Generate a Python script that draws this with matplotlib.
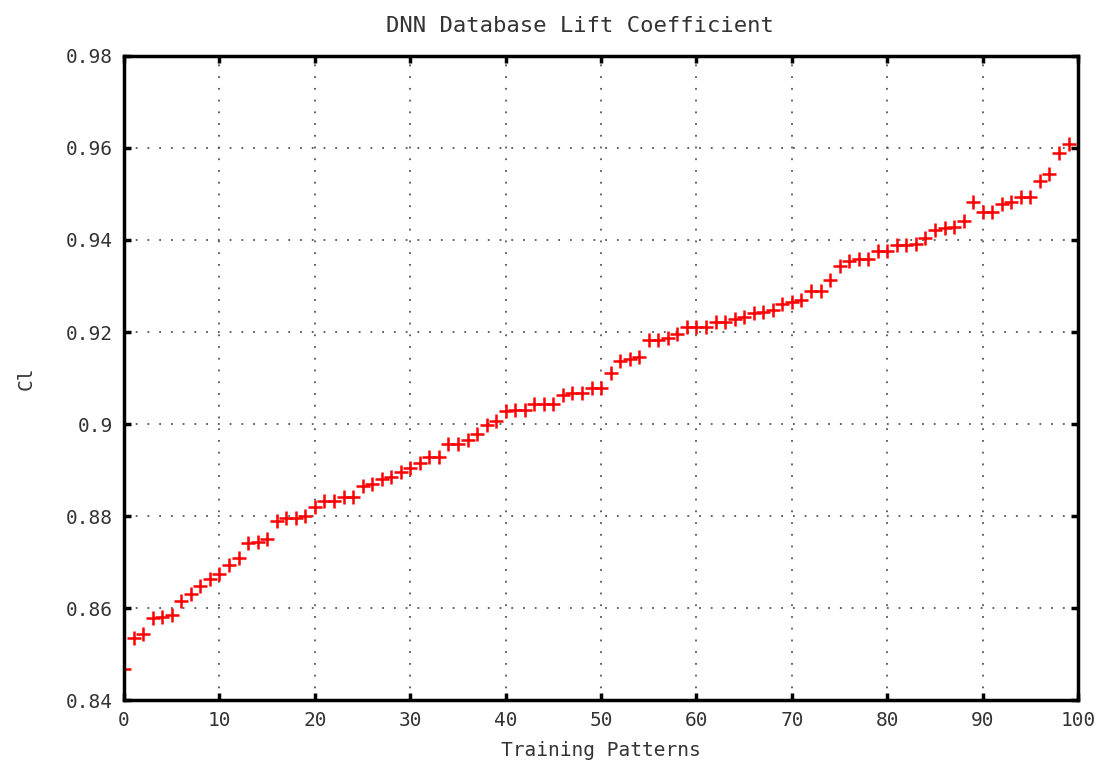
import numpy as np
import matplotlib
matplotlib.use('Agg')
import matplotlib.pyplot as plt

# lift coefficient per training pattern
patterns = list(range(100))
cl = [0.8467, 0.8535, 0.8543, 0.8578, 0.8581, 0.8585, 0.8615, 0.8630, 0.8649, 0.8663,
      0.8675, 0.8693, 0.8709, 0.8741, 0.8744, 0.8750, 0.8789, 0.8796, 0.8796, 0.8800,
      0.8820, 0.8833, 0.8833, 0.8842, 0.8842, 0.8865, 0.8869, 0.8880, 0.8884, 0.8895,
      0.8904, 0.8915, 0.8929, 0.8929, 0.8956, 0.8956, 0.8965, 0.8978, 0.8998, 0.9007,
      0.9028, 0.9030, 0.9030, 0.9043, 0.9043, 0.9043, 0.9063, 0.9067, 0.9067, 0.9078,
      0.9078, 0.9111, 0.9137, 0.9141, 0.9146, 0.9183, 0.9183, 0.9188, 0.9195, 0.9210,
      0.9210, 0.9210, 0.9222, 0.9222, 0.9228, 0.9233, 0.9241, 0.9244, 0.9248, 0.9260,
      0.9266, 0.9270, 0.9289, 0.9289, 0.9312, 0.9343, 0.9354, 0.9358, 0.9358, 0.9377,
      0.9377, 0.9388, 0.9388, 0.9391, 0.9404, 0.9422, 0.9425, 0.9429, 0.9442, 0.9483,
      0.9460, 0.9460, 0.9478, 0.9482, 0.9494, 0.9494, 0.9528, 0.9543, 0.9588, 0.9608]

xticks = np.arange(0, 101, 10)
yticks = [0.84, 0.86, 0.88, 0.9, 0.92, 0.94, 0.96, 0.98]
ytick_labels = ['0.84', '0.86', '0.88', '0.9', '0.92', '0.94', '0.96', '0.98']

plt.rcParams['font.family'] = ['DejaVu Sans Mono']

fig = plt.figure(figsize=(11.08, 7.66), dpi=100)
ax = fig.add_axes([0.112, 0.086, 0.861, 0.841])

ax.plot(patterns, cl, linestyle='none', marker='+', color='#ff0000',
        markersize=9.5, markeredgewidth=1.8)

ax.set_xlim(0, 100)
ax.set_ylim(0.84, 0.98)
ax.set_xticks(xticks)
ax.set_yticks(yticks)
ax.set_yticklabels(ytick_labels)

ax.grid(True, color='#555555', linestyle=(0, (1, 5.5)), linewidth=1.3)
for s in ax.spines.values():
    s.set_linewidth(2.5)
    s.set_color('black')
ax.tick_params(direction='in', length=5, width=2.5, top=True, right=True,
               labelsize=14, colors='#333333', pad=8)
ax.tick_params(axis='both', color='black')

ax.set_title('DNN Database Lift Coefficient', fontsize=16, color='#333333', pad=17, x=0.478)
ax.set_xlabel('Training Patterns', fontsize=14, color='#333333', labelpad=8)
ax.set_ylabel('Cl', fontsize=14, color='#333333', labelpad=22)

fig.savefig('out.png', dpi=100)
